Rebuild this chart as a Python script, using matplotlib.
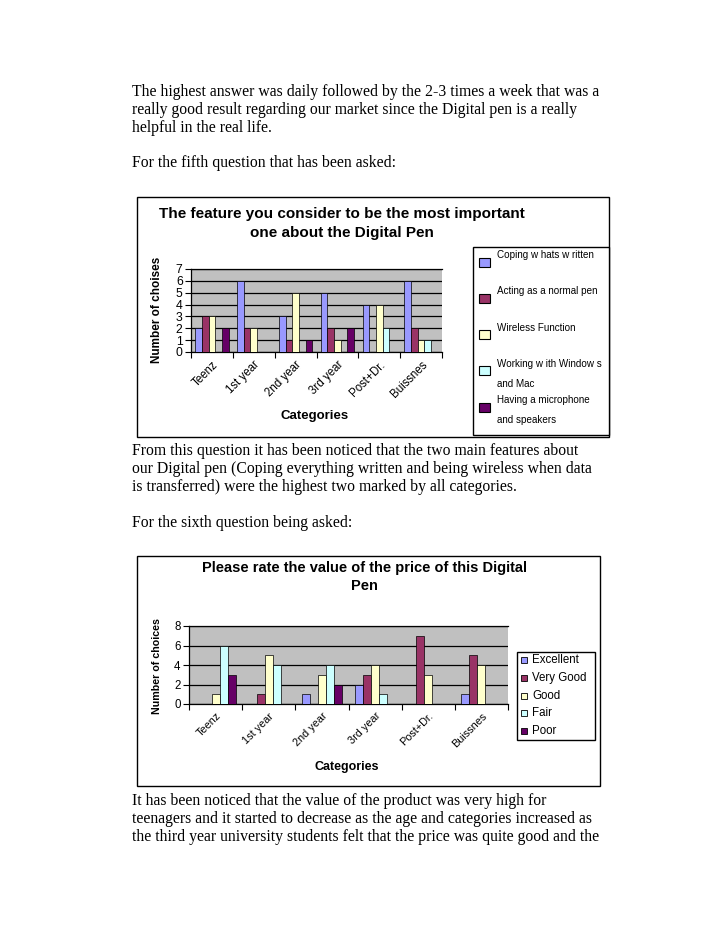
import numpy as np
import matplotlib.pyplot as plt
from matplotlib.patches import Rectangle

plt.rcParams['font.family'] = 'Liberation Sans'

W, H = 728, 942  # page size in pixels

# %% data
categories = ['Teenz', '1st year', '2nd year', '3rd year', 'Post+Dr.', 'Buissnes']

# question 5 - most important feature
feature_names = ['Coping w hats w ritten', 'Acting as a normal pen', 'Wireless Function',
                 'Working w ith Window s\nand Mac', 'Having a microphone\nand speakers']
coping = [2, 6, 3, 5, 4, 6]
acting = [3, 2, 1, 2, 0, 2]
wireless = [3, 2, 5, 1, 4, 1]
windows = [0, 0, 0, 0, 2, 1]
microphone = [2, 0, 1, 2, 0, 0]

# question 6 - value of the price
price_names = ['Excellent', 'Very Good', 'Good', 'Fair', 'Poor']
excellent = [0, 0, 1, 2, 0, 1]
very_good = [0, 1, 0, 3, 7, 5]
good = [1, 5, 3, 4, 3, 4]
fair = [6, 4, 4, 1, 0, 0]
poor = [3, 0, 2, 0, 0, 0]

colors = ['#9999ff', '#993366', '#ffffcc', '#ccffff', '#660066']

para1 = ['The highest answer was daily followed by the 2-3 times a week that was a',
         'really good result regarding our market since the Digital pen is a really',
         'helpful in the real life.']
para2 = ['For the fifth question that has been asked:']
para3 = ['From this question it has been noticed that the two main features about',
         'our Digital pen (Coping everything written and being wireless when data',
         'is transferred) were the highest two marked by all categories.']
para4 = ['For the sixth question being asked:']
para5 = ['It has been noticed that the value of the product was very high for',
         'teenagers and it started to decrease as the age and categories increased as',
         'the third year university students felt that the price was quite good and the']


def px(x0, y0, x1, y1):
    return [x0 / W, 1 - y1 / H, (x1 - x0) / W, (y1 - y0) / H]


fig = plt.figure(figsize=(W / 100, H / 100), dpi=100)
page = fig.add_axes([0, 0, 1, 1], zorder=0)
page.set_xlim(0, W)
page.set_ylim(H, 0)
page.axis('off')

# %% page text
def write_lines(lines, y0, step=17.8):
    for i, s in enumerate(lines):
        page.text(132, y0 + i * step, s, family='Liberation Serif', fontsize=11.3,
                  va='center', ha='left')

write_lines(para1, 92)
write_lines(para2, 163)
write_lines(para3, 451)
write_lines(para4, 523)
write_lines(para5, 801)

# chart frames
page.add_patch(Rectangle((137, 197), 472, 240, fc='white', ec='black', lw=1))
page.add_patch(Rectangle((137, 556), 463, 230, fc='white', ec='black', lw=1))


def bar_chart(rect, series, ymax, ystep, bw, fs):
    ax = fig.add_axes(px(*rect), zorder=2)
    ax.set_facecolor('#c0c0c0')
    x = np.arange(len(categories))
    for i, vals in enumerate(series):
        ax.bar(x + (i - 2) * bw, vals, bw, color=colors[i], edgecolor='black',
               linewidth=0.5, zorder=3)
    ax.set_xlim(-0.5, len(categories) - 0.5)
    ax.set_ylim(0, ymax)
    ax.set_yticks(np.arange(0, ymax + 1, ystep))
    ax.yaxis.grid(True, color='black', lw=0.9)
    ax.set_axisbelow(True)
    ax.set_xticks(x)
    ax.set_xticklabels(categories, rotation=45, ha='right', va='top',
                       rotation_mode='anchor', fontsize=fs)
    ax.set_xticks(np.arange(-0.5, len(categories)), minor=True)
    ax.tick_params(axis='x', which='major', length=0, pad=5)
    ax.tick_params(axis='x', which='minor', length=4, width=0.8)
    ax.tick_params(axis='y', length=4, width=0.8, labelsize=fs + 0.5, pad=2)
    for s in ['left', 'bottom', 'top']:
        ax.spines[s].set_color('black')
        ax.spines[s].set_linewidth(0.9)
    ax.spines['right'].set_visible(False)
    return ax


bar_chart((191, 269, 442, 352), [coping, acting, wireless, windows, microphone],
          7, 1, 0.16, 8.3)
bar_chart((189, 626, 508, 704), [excellent, very_good, good, fair, poor],
          8, 2, 0.15, 7.8)

# titles and axis labels
page.text(342, 223.5, 'The feature you consider to be the most important\none about the Digital Pen',
          ha='center', va='center', fontsize=11, weight='bold', linespacing=1.45)
page.text(364, 577, 'Please rate the value of the price of this Digital\nPen',
          ha='center', va='center', fontsize=10.5, weight='bold', linespacing=1.3)
page.text(157, 310, 'Number of choises', rotation=90, ha='center', va='center',
          fontsize=8.5, weight='bold')
page.text(157, 666, 'Number of choices', rotation=90, ha='center', va='center',
          fontsize=7.7, weight='bold')
page.text(315, 416, 'Categories', ha='center', va='center', fontsize=9.5, weight='bold')
page.text(347, 767, 'Categories', ha='center', va='center', fontsize=9, weight='bold')

# %% legends
page.add_patch(Rectangle((473, 247), 136, 188, fc='white', ec='black', lw=1))
for i, name in enumerate(feature_names):
    yc = 262 + 36.3 * i
    page.add_patch(Rectangle((479, yc - 4.5), 11, 9, fc=colors[i], ec='black', lw=0.8))
    for j, line in enumerate(name.split('\n')):
        page.text(497, yc - 7 + 20 * j, line, fontsize=7.1, va='center', ha='left')

page.add_patch(Rectangle((517, 652), 78, 88, fc='white', ec='black', lw=1))
for i, name in enumerate(price_names):
    yc = 660 + 17.8 * i
    page.add_patch(Rectangle((521, yc - 3), 6, 6, fc=colors[i], ec='black', lw=0.6))
    page.text(532, yc, name, fontsize=8.3, va='center', ha='left')

fig.savefig('out.png', dpi=100)
